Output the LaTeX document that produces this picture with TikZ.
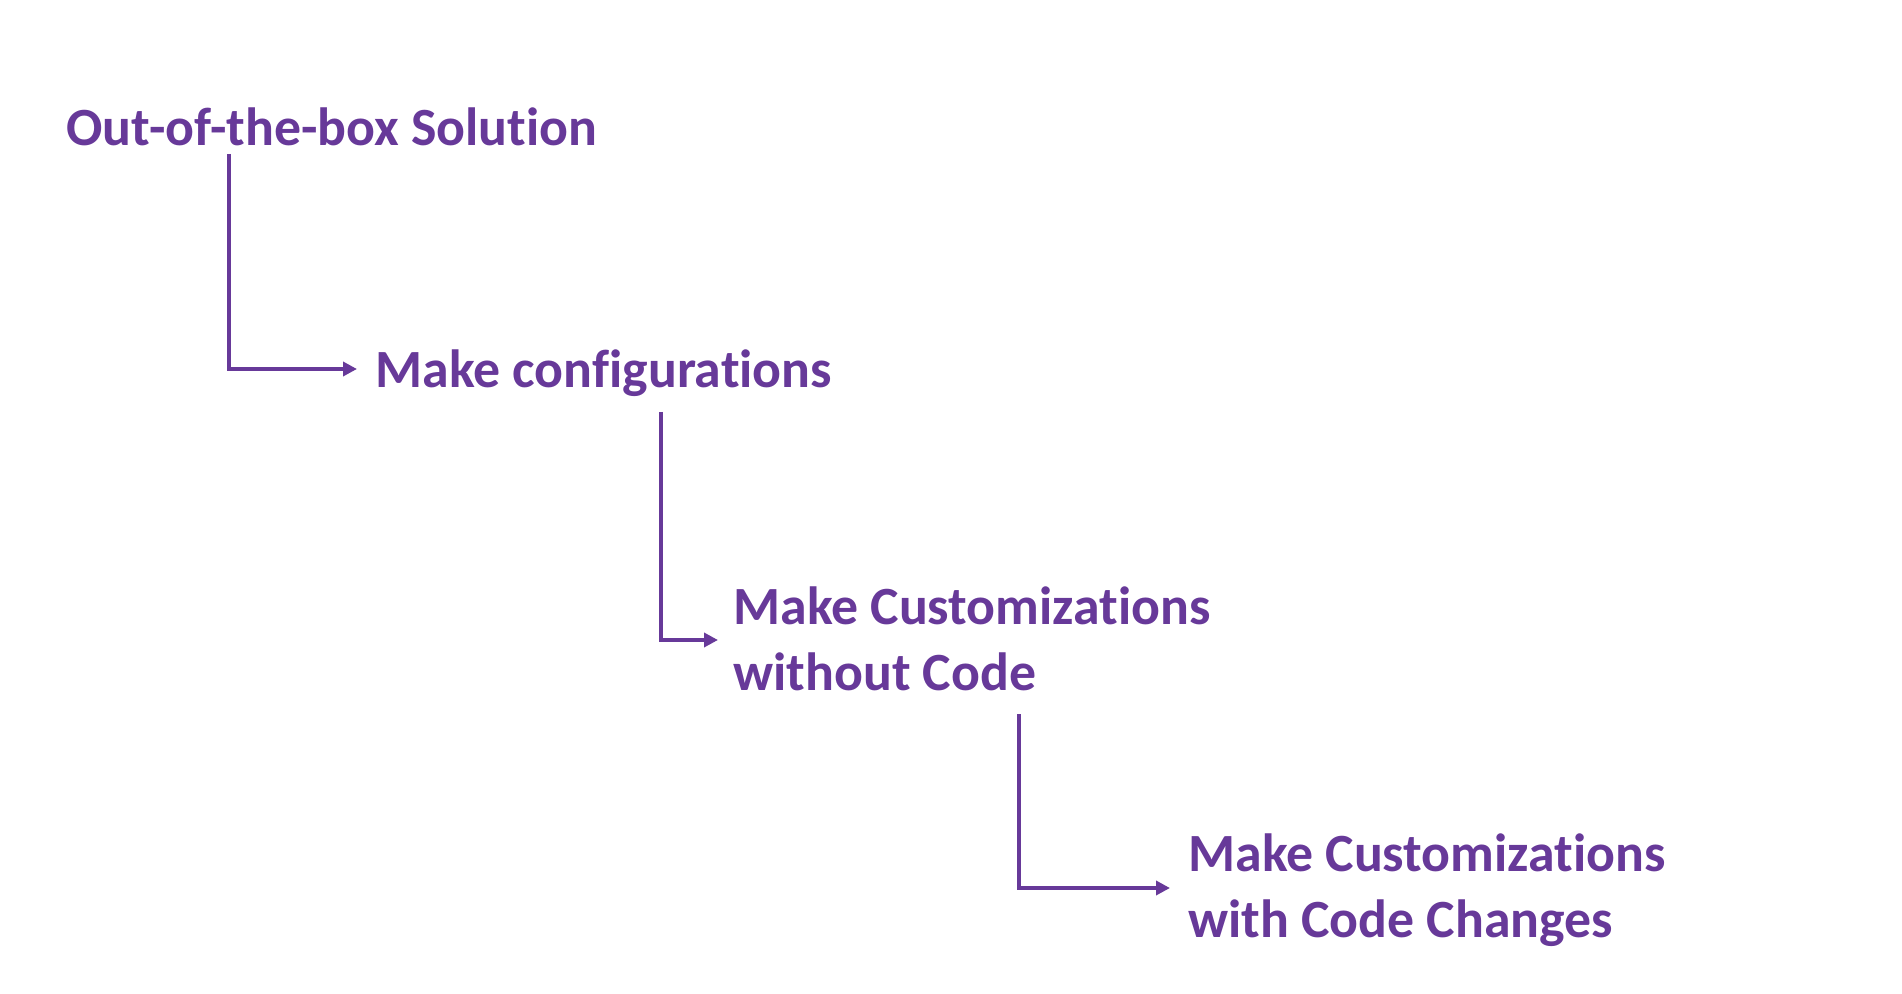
\documentclass[tikz,border=0pt]{standalone}
\usepackage{fontspec}
\setmainfont{Carlito}[Ligatures=NoCommon]
\usepackage{xcolor}
\usetikzlibrary{arrows.meta}
\definecolor{stagepurple}{RGB}{103,57,153}

\begin{document}
\begin{tikzpicture}[x=0.5pt,y=-0.5pt,
  stage/.style={anchor=base west, inner sep=0pt, align=left, text=stagepurple,
    font=\bfseries\fontsize{26.9}{33}\selectfont},
  flow/.style={draw=stagepurple, line width=2.4pt, -{Triangle[length=7pt,width=7pt]}}]
\useasboundingbox (0,0) rectangle (1902,994);

\node (sol) at (66,146) [stage] {Out-of-the-box Solution};
\node (cfg) at (375,388) [stage] {Make configurations};
\node (nocode) at (733,690) [stage] {Make Customizations\\without Code};
\node (withcode) at (1188,937) [stage] {Make Customizations\\with Code Changes};

\draw[flow] ([xshift=81.5pt,yshift=-4pt]sol.base west) |- ([xshift=-9pt,yshift=9.5pt]cfg.base west);
\draw[flow] ([xshift=143pt,yshift=-12pt]cfg.base west) |- ([xshift=-7.5pt,yshift=25pt]nocode.base west);
\draw[flow] ([xshift=143pt,yshift=-12pt]nocode.base west) |- ([xshift=-9pt,yshift=24.5pt]withcode.base west);
\end{tikzpicture}
\end{document}
